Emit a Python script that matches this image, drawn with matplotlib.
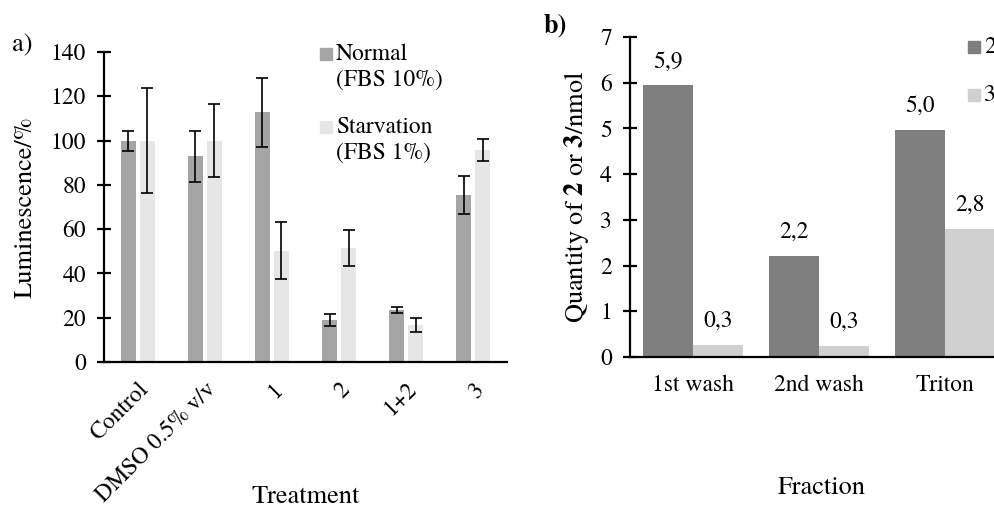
import numpy as np
import matplotlib
matplotlib.use("Agg")
import matplotlib.pyplot as plt
from matplotlib.patches import Rectangle

plt.rcParams["font.family"] = ["TeX Gyre Termes", "Liberation Serif", "FreeSerif", "DejaVu Serif"]
plt.rcParams["mathtext.fontset"] = "custom"
plt.rcParams["mathtext.rm"] = "TeX Gyre Termes"
plt.rcParams["mathtext.bf"] = "TeX Gyre Termes:bold"

# -------------------------
# data, panel a
# -------------------------
treatments = ["Control", "DMSO 0.5% v/v", "1", "2", "1+2", "3"]
normal = [99.8, 93.0, 112.7, 19.0, 23.6, 75.4]
normal_err = [4.4, 11.5, 15.4, 2.6, 1.3, 8.6]
starvation = [100.0, 100.0, 50.3, 51.3, 16.6, 95.6]
starvation_err = [23.7, 16.6, 12.9, 8.1, 3.2, 5.0]

# -------------------------
# data, panel b
# -------------------------
fractions = ["1st wash", "2nd wash", "Triton"]
qty_2 = [5.94, 2.21, 4.97]
qty_3 = [0.27, 0.25, 2.81]
labels_2 = ["5,9", "2,2", "5,0"]
labels_3 = ["0,3", "0,3", "2,8"]

W, H = 995, 508
FS = 17
fig = plt.figure(figsize=(W / 100, H / 100), dpi=100)


def px_axes(left, top, right, bottom):
    return fig.add_axes([left / W, 1 - bottom / H, (right - left) / W, (bottom - top) / H])


def style(ax):
    for s in ["top", "right"]:
        ax.spines[s].set_visible(False)
    for s in ["left", "bottom"]:
        ax.spines[s].set_linewidth(1.6)
    ax.tick_params(axis="y", direction="inout", length=10, width=1.6, pad=8, labelsize=FS)
    ax.tick_params(axis="x", length=0, labelsize=FS)


# ---- panel a ----
ax1 = px_axes(104, 52, 507, 362)
x = np.arange(len(treatments))
bw = 0.223
ax1.bar(x - 0.141, normal, bw, color="#a5a5a5")
ax1.bar(x + 0.141, starvation, bw, color="#e6e6e6")
ax1.errorbar(x - 0.141, normal, yerr=normal_err, fmt="none", ecolor="black",
             elinewidth=1.2, capsize=4, capthick=1.2)
ax1.errorbar(x + 0.141, starvation, yerr=starvation_err, fmt="none", ecolor="black",
             elinewidth=1.2, capsize=4, capthick=1.2)
ax1.set_xlim(-0.5, len(treatments) - 0.5)
ax1.set_ylim(0, 140)
ax1.set_yticks(np.arange(0, 141, 20))
ax1.set_xticks(x)
ax1.set_xticklabels(treatments, rotation=45, ha="right", rotation_mode="anchor")
style(ax1)
ax1.tick_params(axis="x", pad=12)

# ---- panel b ----
ax2 = px_axes(630, 37, 1008, 357)
xb = np.arange(len(fractions))
bwb = 0.396
ax2.bar(xb - 0.198, qty_2, bwb, color="#7f7f7f")
ax2.bar(xb + 0.198, qty_3, bwb, color="#d0d0d0")
for xi, v, t in zip(xb - 0.198, qty_2, labels_2):
    ax2.annotate(t, (xi, v), xytext=(0, 13), textcoords="offset points",
                 ha="center", va="baseline", fontsize=FS)
for xi, v, t in zip(xb + 0.198, qty_3, labels_3):
    ax2.annotate(t, (xi, v), xytext=(0, 13), textcoords="offset points",
                 ha="center", va="baseline", fontsize=FS)
ax2.set_xlim(-0.5, len(fractions) - 0.5)
ax2.set_ylim(0, 7)
ax2.set_yticks(np.arange(0, 8, 1))
ax2.set_xticks(xb)
ax2.set_xticklabels(fractions)
style(ax2)
ax2.tick_params(axis="x", pad=13)

# ---- axis titles and panel letters ----
fig.text(26 / W, 1 - 207 / H, "Luminescence/%", rotation=90, ha="center", va="center", fontsize=19)
fig.text(306 / W, 1 - 497 / H, "Treatment", ha="center", va="center", fontsize=19)
fig.text(577 / W, 1 - 197 / H, r"Quantity of $\mathbf{2}$ or $\mathbf{3}$/nmol",
         rotation=90, ha="center", va="center", fontsize=19)
fig.text(822 / W, 1 - 488 / H, "Fraction", ha="center", va="center", fontsize=19)
fig.text(12 / W, 1 - 45 / H, "a)", ha="left", va="center", fontsize=19)
fig.text(544 / W, 1 - 26 / H, "b)", ha="left", va="center", fontsize=19, fontweight="bold")


# ---- legends ----
def swatch(xp, yp, color):
    fig.add_artist(Rectangle((xp / W, 1 - (yp + 6) / H), 12 / W, 12 / H,
                             color=color, transform=fig.transFigure))


swatch(320, 54, "#a5a5a5")
fig.text(336 / W, 1 - 54 / H, "Normal", va="center", fontsize=FS)
fig.text(336 / W, 1 - 80 / H, "(FBS 10%)", va="center", fontsize=FS)
swatch(320, 127, "#e6e6e6")
fig.text(336 / W, 1 - 127 / H, "Starvation", va="center", fontsize=FS)
fig.text(336 / W, 1 - 153 / H, "(FBS 1%)", va="center", fontsize=FS)

swatch(968, 47, "#7f7f7f")
fig.text(984 / W, 1 - 47 / H, "2", va="center", fontsize=FS)
swatch(968, 95, "#d0d0d0")
fig.text(984 / W, 1 - 95 / H, "3", va="center", fontsize=FS)

fig.savefig("out.png", dpi=100)
